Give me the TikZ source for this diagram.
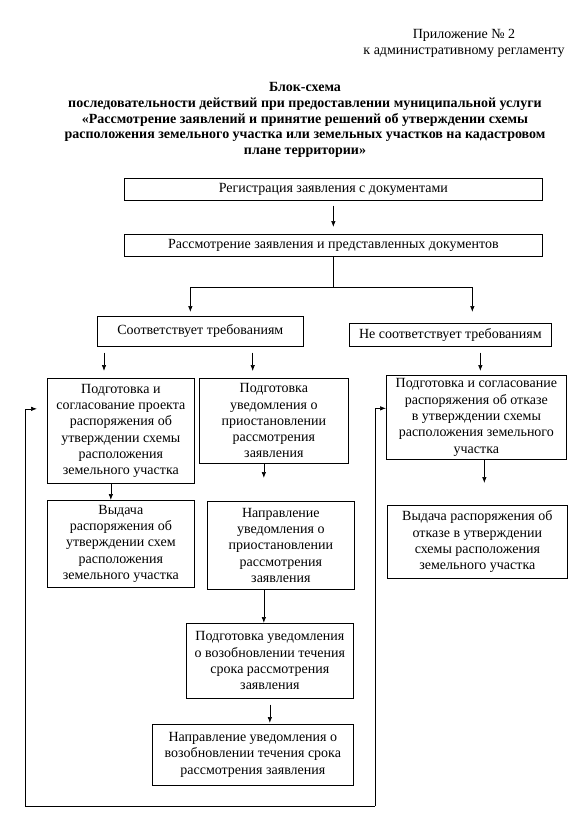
\documentclass[tikz,border=0pt]{standalone}
\usepackage{fontspec}
\setmainfont{Liberation Serif}
\usetikzlibrary{arrows.meta}

\begin{document}
\begin{tikzpicture}[x=1pt, y=-1pt,
    blok/.style={draw, line width=0.7pt, inner sep=1pt, align=center,
      anchor=north west, font=\fontsize{14}{16.3}\selectfont},
    strelka/.style={-{Latex[length=6pt,width=4.5pt]}, line width=0.7pt}]
      \useasboundingbox (0,0) rectangle (583,833);
      %
      \node[align=center, font=\fontsize{14}{16}\selectfont] (prilozh) at (464,43)
        {Приложение № 2\\к административному регламенту};             % header
      \node[align=center, font=\bfseries\fontsize{14}{15.7}\selectfont] (zagolovok) at (305,120)
        {Блок-схема\\
         последовательности действий при предоставлении муниципальной услуги\\
         «Рассмотрение заявлений и принятие решений об утверждении схемы\\
         расположения земельного участка или земельных участков на кадастровом\\
         плане территории»};
      %
      \node[blok, minimum width=418pt, minimum height=22pt] (reg) at (124,178)
        {Регистрация заявления с документами};                       % top rows
      \node[blok, minimum width=418pt, minimum height=22pt] (ras) at (124,234)
        {Рассмотрение заявления и представленных документов};
      %%
      \node[blok, minimum width=206pt, minimum height=30pt] (sootv) at (97,316)
        {Соответствует требованиям};                                 % decision
      \node[blok, minimum width=202pt, minimum height=23pt] (nesootv) at (349,323)
        {Не соответствует требованиям};
      %%
      \node[blok, minimum width=147pt, minimum height=105pt] (podg) at (47,378)
        {Подготовка и\\согласование проекта\\распоряжения об\\утверждении схемы\\расположения\\земельного участка};
      \node[blok, minimum width=149pt, minimum height=85pt] (priost) at (199,378)
        {Подготовка\\уведомления о\\приостановлении\\рассмотрения\\заявления};
      \node[blok, minimum width=180pt, minimum height=84pt] (otkaz) at (386,375)
        {Подготовка и согласование\\распоряжения об отказе\\в утверждении схемы\\расположения земельного\\участка};
      %%
      \node[blok, minimum width=147pt, minimum height=87pt] (vyd) at (47,500)
        {Выдача\\распоряжения об\\утверждении схем\\расположения\\земельного участка};
      \node[blok, minimum width=147pt, minimum height=88pt] (naprpr) at (207,501)
        {Направление\\уведомления о\\приостановлении\\рассмотрения\\заявления};
      \node[blok, minimum width=180pt, minimum height=73pt] (vydotk) at (387,505)
        {Выдача распоряжения об\\отказе в утверждении\\схемы расположения\\земельного участка};
      %%
      \node[blok, minimum width=167pt, minimum height=75pt] (vozob) at (186,623)
        {Подготовка уведомления\\о возобновлении течения\\срока рассмотрения\\заявления};
      \node[blok, minimum width=201pt, minimum height=61pt] (naprvoz) at (152,724)
        {Направление уведомления о\\возобновлении течения срока\\рассмотрения заявления};
      %
      \draw[strelka, shorten <=5pt, shorten >=7pt] (reg.south) -- (ras.north);   % arrows
      \coordinate (razv) at ([yshift=-31pt]ras.south);
      \draw[line width=0.7pt] (ras.south) -- (razv);
      \draw[strelka, shorten >=4pt] (razv) -| ([xshift=-10pt]sootv.north);
      \draw[strelka, shorten >=11pt] (razv) -| ([xshift=22pt]nesootv.north);
      %%
      \draw[strelka, shorten <=6pt, shorten >=7pt] ([xshift=7pt]sootv.south west) -- ([xshift=7pt]sootv.south west |- podg.north);
      \draw[strelka, shorten <=6pt, shorten >=7pt] ([xshift=-51pt]sootv.south east) -- ([xshift=-51pt]sootv.south east |- priost.north);
      \draw[strelka, shorten <=6pt, shorten >=4pt] ([xshift=4pt]otkaz.north |- nesootv.south) -- ([xshift=4pt]otkaz.north);
      %%
      \draw[strelka] ([xshift=-10pt]podg.south) -- ([xshift=-10pt]podg.south |- vyd.north);
      \draw[strelka, shorten >=23pt] ([xshift=-10pt]priost.south) -- ([xshift=-10pt]priost.south |- naprpr.north);
      \draw[strelka, shorten >=22pt] ([xshift=8pt]otkaz.south) -- ([xshift=8pt]otkaz.south |- vydotk.north);
      \draw[strelka] ([xshift=-17pt]naprpr.south) -- ([xshift=-17pt]naprpr.south |- vozob.north);
      \draw[strelka, shorten <=6pt, shorten >=1pt] (vozob.south) -- (vozob.south |- naprvoz.north);
      %
      \coordinate (petlyaL) at (25,806);                              % loop back
      \coordinate (petlyaR) at (375,806);
      \draw[line width=0.7pt] (petlyaL) -- (petlyaR);
      \draw[strelka, shorten >=10pt] (petlyaL) |- ([yshift=22pt]podg.west);
      \draw[strelka] (petlyaR) |- ([yshift=9pt]otkaz.west);
      %
    \end{tikzpicture}
\end{document}
